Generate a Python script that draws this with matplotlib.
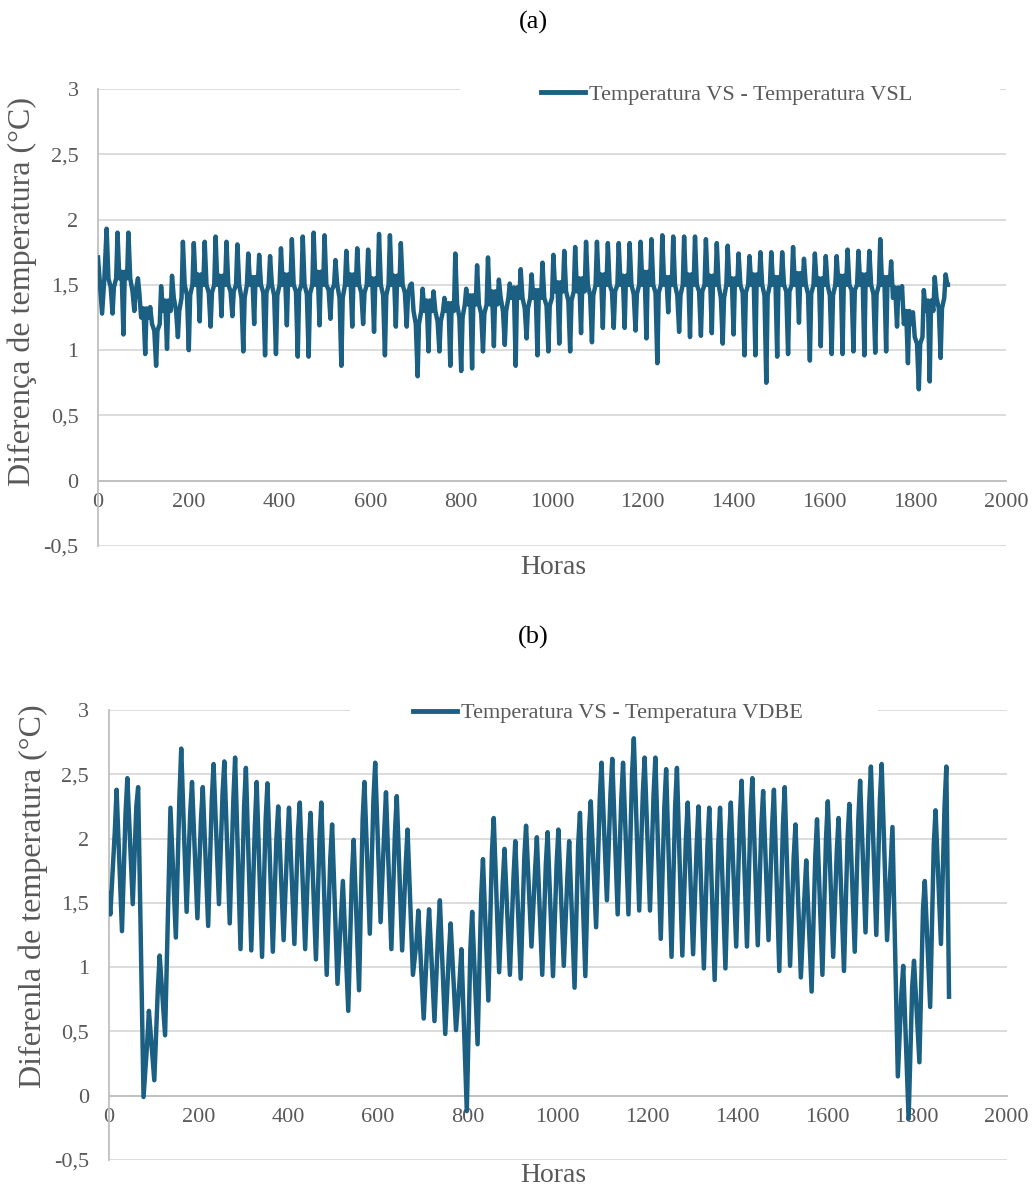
import matplotlib
matplotlib.use("Agg")
import matplotlib.pyplot as plt
from matplotlib.patches import Rectangle

# ---------------- data ----------------
# daily extrema of the hourly difference, one value per day (day k)
peak_a = [1.93, 1.90, 1.90, 1.44, 1.33, 1.49, 1.57, 1.83, 1.82, 1.83,
          1.87, 1.83, 1.81, 1.74, 1.73, 1.72, 1.78, 1.85, 1.87, 1.90,
          1.88, 1.69, 1.76, 1.78, 1.77, 1.89, 1.88, 1.82, 1.51, 1.47,
          1.45, 1.40, 1.74, 1.47, 1.65, 1.71, 1.54, 1.51, 1.62, 1.58,
          1.67, 1.73, 1.76, 1.79, 1.83, 1.83, 1.82, 1.82, 1.82, 1.83,
          1.85, 1.88, 1.87, 1.87, 1.87, 1.85, 1.82, 1.80, 1.74, 1.72,
          1.75, 1.75, 1.75, 1.79, 1.70, 1.74, 1.72, 1.72, 1.77, 1.76,
          1.76, 1.85, 1.68, 1.49, 1.29, 1.46, 1.56, 1.58]
trough_a = [1.28, 1.12, 1.30, 0.97, 0.88, 1.01, 1.10, 1.00, 1.22, 1.18,
            1.26, 1.26, 0.99, 1.20, 0.96, 0.97, 1.19, 0.95, 0.95, 1.19,
            1.24, 0.88, 1.18, 1.20, 1.14, 0.96, 1.18, 1.18, 0.80, 0.99,
            0.99, 0.88, 0.84, 0.86, 0.99, 1.03, 1.04, 0.88, 1.09, 0.96,
            0.99, 1.05, 0.99, 1.13, 1.06, 1.17, 1.17, 1.17, 1.15, 1.09,
            0.90, 1.29, 1.14, 1.10, 1.11, 1.13, 1.05, 1.12, 0.96, 0.96,
            0.75, 0.95, 0.97, 1.21, 0.92, 1.03, 0.97, 0.97, 0.99, 0.96,
            0.98, 0.99, 1.18, 0.90, 0.70, 0.76, 0.94]
mid_a = [1.55, 1.55, 1.55, 1.25, 1.20, 1.30, 1.40, 1.50, 1.50, 1.50,
         1.50, 1.50, 1.50, 1.50, 1.50, 1.50, 1.50, 1.50, 1.50, 1.50,
         1.50, 1.50, 1.50, 1.50, 1.50, 1.50, 1.50, 1.50, 1.30, 1.30,
         1.30, 1.30, 1.35, 1.35, 1.35, 1.35, 1.40, 1.40, 1.40, 1.40,
         1.40, 1.45, 1.45, 1.45, 1.50, 1.50, 1.50, 1.50, 1.50, 1.50,
         1.50, 1.50, 1.50, 1.50, 1.50, 1.50, 1.50, 1.50, 1.50, 1.50,
         1.50, 1.50, 1.50, 1.50, 1.50, 1.50, 1.50, 1.50, 1.50, 1.50,
         1.50, 1.50, 1.40, 1.20, 1.10, 1.30, 1.40, 1.50]
mid2_a = [1.48, 1.60, 1.45, 1.32, 1.15, 1.38, 1.30, 1.42, 1.58, 1.44,
          1.57, 1.45, 1.40, 1.56, 1.44, 1.42, 1.58, 1.45, 1.43, 1.60,
          1.46, 1.40, 1.58, 1.44, 1.55, 1.42, 1.57, 1.44, 1.20, 1.38,
          1.22, 1.36, 1.25, 1.42, 1.28, 1.45, 1.30, 1.48, 1.32, 1.46,
          1.34, 1.52, 1.38, 1.55, 1.42, 1.58, 1.45, 1.57, 1.43, 1.60,
          1.44, 1.56, 1.42, 1.58, 1.45, 1.57, 1.40, 1.55, 1.44, 1.58,
          1.42, 1.56, 1.45, 1.59, 1.43, 1.55, 1.42, 1.57, 1.46, 1.58,
          1.43, 1.56, 1.48, 1.30, 1.05, 1.38, 1.32, 1.55]
start_a = [1.71, 1.28, 1.55]
end_a = 1.50

peak_b = [2.38, 2.47, 2.40, 0.66, 1.09, 2.24, 2.70, 2.44, 2.40, 2.58,
          2.60, 2.63, 2.55, 2.44, 2.43, 2.25, 2.24, 2.28, 2.20, 2.28,
          2.11, 1.67, 1.99, 2.44, 2.59, 2.36, 2.33, 2.07, 1.44, 1.45,
          1.52, 1.34, 1.14, 1.43, 1.84, 2.16, 1.92, 1.98, 2.10, 2.01,
          2.05, 2.07, 1.98, 2.20, 2.29, 2.59, 2.62, 2.59, 2.78, 2.63,
          2.63, 2.54, 2.55, 2.28, 2.25, 2.24, 2.24, 2.28, 2.45, 2.47,
          2.37, 2.38, 2.40, 2.11, 1.83, 2.15, 2.29, 2.16, 2.27, 2.45,
          2.56, 2.58, 2.09, 1.01, 1.05, 1.67, 2.22, 2.56]
shoulder_b = [2.05, 2.20, 2.25, 0.40, 0.84, 1.67, 2.33, 2.20, 2.15, 2.30,
              2.35, 2.30, 2.25, 2.10, 2.15, 2.00, 1.95, 2.05, 1.95, 2.00,
              1.85, 1.40, 1.70, 2.15, 2.30, 2.05, 2.05, 1.80, 1.20, 1.20,
              1.25, 1.10, 0.90, 1.15, 1.55, 1.90, 1.65, 1.70, 1.85, 1.75,
              1.80, 1.80, 1.70, 1.95, 2.05, 2.30, 2.35, 2.30, 2.50, 2.35,
              2.35, 2.25, 2.25, 2.00, 1.95, 1.95, 1.95, 2.00, 2.15, 2.20,
              2.10, 2.10, 2.10, 1.85, 1.55, 1.85, 2.00, 1.90, 2.00, 2.15,
              2.25, 2.30, 1.80, 0.80, 0.85, 1.45, 1.95, 2.25]
trough_b = [1.28, 1.49, -0.01, 0.12, 0.47, 1.23, 1.43, 1.38, 1.32, 1.49,
            1.34, 1.14, 1.13, 1.08, 1.12, 1.21, 1.18, 1.14, 1.06, 0.94,
            0.87, 0.66, 0.82, 1.26, 1.35, 1.14, 1.13, 0.94, 0.60, 0.58,
            0.48, 0.51, -0.12, 0.40, 0.74, 0.96, 0.94, 0.91, 1.16, 0.94,
            0.93, 1.01, 0.84, 0.93, 1.31, 1.52, 1.41, 1.41, 1.44, 1.44,
            1.22, 1.08, 1.09, 1.10, 0.99, 0.90, 0.99, 1.16, 1.16, 1.17,
            1.21, 0.97, 1.01, 0.92, 0.81, 0.94, 1.08, 0.97, 1.12, 1.27,
            1.25, 1.21, 0.15, -0.18, 0.26, 0.69, 1.18]
start_b = [1.57, 1.41]
end_b = 0.77

last_hour = 1872
x_ticks = list(range(0, 2001, 200))
y_ticks = [-0.5, 0, 0.5, 1, 1.5, 2, 2.5, 3]
y_labels = ["-0,5", "0", "0,5", "1", "1,5", "2", "2,5", "3"]
legend_a = "Temperatura VS - Temperatura VSL"
legend_b = "Temperatura VS - Temperatura VDBE"
ylabel_a = "Diferença de temperatura (°C)"
ylabel_b = "Diferenla de temperatura (°C)"
xlabel = "Horas"

# ---------------- build hourly traces from daily extrema ----------------
def trace_a():
    hrs = [0, 9, 14]
    vals = list(start_a)
    for k, p in enumerate(peak_a):
        t = 24 * k + 19
        pts = [(t, p), (t + 4, mid_a[k])]
        if k < len(trough_a):
            pts += [(t + 9, mid2_a[k]), (t + 13, trough_a[k]),
                    (t + 16, mid2_a[k]), (t + 21, mid_a[k])]
        for h, v in pts:
            if h <= last_hour:
                hrs.append(h); vals.append(v)
    hrs.append(last_hour); vals.append(end_a)
    return hrs, vals

def trace_b():
    hrs = [0, 4]
    vals = list(start_b)
    for k, p in enumerate(peak_b):
        t = 24 * k + 18
        pts = [(t - 4, shoulder_b[k]), (t, p)]
        if k < len(trough_b):
            pts.append((t + 12, trough_b[k]))
        for h, v in pts:
            if h <= last_hour:
                hrs.append(h); vals.append(v)
    hrs.append(last_hour); vals.append(end_b)
    return hrs, vals

# ---------------- styling ----------------
LINE = "#1b5f82"
GRID = "#d9d9d9"
AXC = "#bfbfbf"
TXT = "#595959"
FONT = ["Liberation Serif", "DejaVu Serif"]
plt.rcParams["font.family"] = FONT

W, H = 1033, 1189
fig = plt.figure(figsize=(W / 100, H / 100), dpi=100)

def style(ax, hrs, vals, leg_text, leg_xy, rect):
    ax.plot(hrs, vals, color=LINE, lw=3.2, solid_joinstyle="round",
            label=leg_text, zorder=3)
    ax.set_xlim(0, 2000)
    ax.set_ylim(-0.5, 3)
    ax.set_xticks(x_ticks)
    ax.set_xticklabels([str(v) for v in x_ticks])
    ax.set_yticks(y_ticks)
    ax.set_yticklabels(y_labels)
    ax.set_axisbelow(True)
    ax.grid(axis="y", color=GRID, lw=1.3)
    for s in ("top", "right"):
        ax.spines[s].set_visible(False)
    ax.spines["bottom"].set_position(("data", 0))
    ax.spines["bottom"].set_color(AXC)
    ax.spines["bottom"].set_linewidth(1.3)
    ax.spines["left"].set_color(AXC)
    ax.spines["left"].set_linewidth(1.3)
    ax.tick_params(axis="both", length=0, labelsize=16, labelcolor=TXT)
    ax.tick_params(axis="x", pad=9)
    ax.tick_params(axis="y", pad=14)
    ax.add_patch(Rectangle((rect[0], rect[1]), rect[2], rect[3],
                           transform=ax.transAxes, facecolor="white",
                           edgecolor="none", zorder=1, clip_on=False))
    leg = ax.legend(loc="center", bbox_to_anchor=leg_xy, frameon=False,
                    fontsize=16, handlelength=2.0, handletextpad=0.15,
                    borderaxespad=0, borderpad=0)
    for t in leg.get_texts():
        t.set_color(TXT)
    for l in leg.get_lines():
        l.set_linewidth(3.5)

# (a)
axA = fig.add_axes([98 / W, 1 - 546 / H, 908 / W, 457 / H])
ha, va = trace_a()
style(axA, ha, va, legend_a, (0.692, 0.987), (0.399, 0.954, 0.594, 0.066))

# (b)
axB = fig.add_axes([108.5 / W, 1 - 1160 / H, 898 / W, 450 / H])
hb, vb = trace_b()
style(axB, hb, vb, legend_b, (0.556, 0.993), (0.269, 0.964, 0.588, 0.058))

# texts
fig.text(533 / W, 1 - 22 / H, "(a)", ha="center", va="center", fontsize=19, color="black")
fig.text(533 / W, 1 - 637 / H, "(b)", ha="center", va="center", fontsize=19, color="black")
fig.text(22 / W, 1 - 291 / H, ylabel_a, rotation=90, ha="center", va="center",
         fontsize=23, color=TXT)
fig.text(33 / W, 1 - 896 / H, ylabel_b, rotation=90, ha="center", va="center",
         fontsize=23, color=TXT)
fig.text(553 / W, 1 - 568 / H, xlabel, ha="center", va="center", fontsize=20, color=TXT)
fig.text(553 / W, 1 - 1175 / H, xlabel, ha="center", va="center", fontsize=20, color=TXT)

fig.savefig("out.png", dpi=100, facecolor="white")
